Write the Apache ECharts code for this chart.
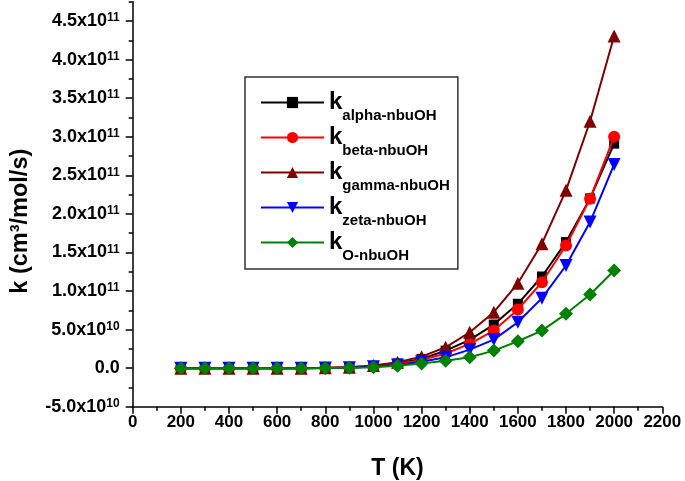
<!DOCTYPE html>
<html>
<head>
<meta charset="utf-8">
<script src="https://cdn.jsdelivr.net/npm/echarts@6/dist/echarts.min.js"></script>
<style>
html,body{margin:0;padding:0;background:#fff;}
#chart{width:685px;height:481px;}
</style>
</head>
<body>
<div id="chart"></div>
<script>
// Temperatures (K)
const temperatures = [200,300,400,500,600,700,800,900,1000,1100,1200,1300,1400,1500,1600,1700,1800,1900,2000];
// Rate constants in units of 1e11 cm^3/mol/s
const kAlpha = [0,0,0,0,0,0,0.003,0.010,0.028,0.060,0.120,0.227,0.366,0.565,0.834,1.188,1.634,2.200,2.910];
const kBeta  = [0,0,0,0,0,0,0.002,0.008,0.022,0.050,0.106,0.190,0.314,0.487,0.760,1.114,1.590,2.197,3.000];
const kGamma = [0,0,0,0,0,0,0.004,0.013,0.035,0.075,0.149,0.270,0.465,0.725,1.100,1.613,2.305,3.200,4.305];
const kZeta  = [0,0,0,0,0,0,0.002,0.006,0.018,0.040,0.084,0.140,0.240,0.370,0.595,0.907,1.330,1.894,2.640];
const kO     = [0,0,0,0,0,0,0.001,0.004,0.012,0.030,0.060,0.097,0.140,0.227,0.348,0.487,0.704,0.955,1.266];
const seriesNames = ['alpha-nbuOH','beta-nbuOH','gamma-nbuOH','zeta-nbuOH','O-nbuOH'];
const yMajorTicks = [-0.5,0,0.5,1,1.5,2,2.5,3,3.5,4,4.5];

const FONT = '"Liberation Sans", Arial, sans-serif';
const chart = echarts.init(document.getElementById('chart'));

function pairs(arr){ return arr.map((v,i)=>[temperatures[i], v]); }

function yLabel(v){
  const r = Math.round(v*100)/100;
  if (Math.abs(r) < 1e-9) return '{m|0.0}';
  if (Math.abs(r) < 1) return '{m|' + (r*10).toFixed(1) + 'x10}{e|10}';
  return '{m|' + r.toFixed(1) + 'x10}{e|11}';
}

const colors = ['#000000','#ff0000','#800000','#0000ff','#008000'];
const symbols = ['rect','circle','triangle','triangle','diamond'];
const symSizes = [10,12,13,13,14];
const rotations = [0,0,0,180,0];
const datas = [kAlpha,kBeta,kGamma,kZeta,kO];

const series = seriesNames.map((n,i)=>({
  name: n,
  type: 'line',
  data: pairs(datas[i]),
  symbol: symbols[i],
  symbolSize: symSizes[i],
  symbolRotate: rotations[i],
  showAllSymbol: true,
  lineStyle: {color: colors[i], width: 2},
  itemStyle: {color: colors[i]},
  emphasis: {disabled: true},
  animation: false,
  z: 2 + i
}));

chart.setOption({
  backgroundColor: '#ffffff',
  animation: false,
  grid: {left: 132.7, right: 22.7, top: 1.7, bottom: 74.3, containLabel: false, outerBoundsMode: 'none'},
  legend: {
    orient: 'vertical',
    left: 245, top: 77,
    padding: [5, 8, 6, 15],
    borderColor: '#333333',
    borderWidth: 1.5,
    itemWidth: 63,
    itemHeight: 14,
    itemGap: -6,
    selectedMode: false,
    data: seriesNames,
    formatter: function(name){ return '{k|k}{s|' + name + '}'; },
    textStyle: {
      fontFamily: FONT, fontWeight: 'bold', color: '#000',
      rich: {
        k: {fontFamily: FONT, fontWeight: 'bold', fontSize: 24, lineHeight: 24, color: '#000'},
        s: {fontFamily: FONT, fontWeight: 'bold', fontSize: 15, lineHeight: 15, color: '#000', padding: [26,0,0,0]}
      }
    }
  },
  xAxis: {
    type: 'value',
    min: 0, max: 2200, interval: 200,
    name: 'T (K)',
    nameLocation: 'middle',
    nameGap: 50,
    nameTextStyle: {fontFamily: FONT, fontWeight: 'bold', fontSize: 23, color: '#000'},
    axisLine: {show: true, onZero: false, lineStyle: {color: '#000', width: 1.5}},
    axisTick: {show: true, inside: false, length: 7, lineStyle: {color: '#000', width: 1.5}},
    minorTick: {show: true, splitNumber: 2, length: 4, lineStyle: {color: '#000', width: 1.5}},
    splitLine: {show: false},
    axisLabel: {fontFamily: FONT, fontWeight: 'bold', fontSize: 17, color: '#000', margin: 7,
      formatter: function(v){ return String(v); }}
  },
  yAxis: [{
    type: 'value',
    min: -0.5, max: 4.75, interval: 0.5,
    position: 'left',
    name: 'k (cm³/mol/s)',
    nameLocation: 'middle',
    nameGap: 100,
    nameTextStyle: {fontFamily: FONT, fontWeight: 'bold', fontSize: 23.5, color: '#000', padding: [0,34,0,0]},
    axisLine: {show: true, onZero: false, lineStyle: {color: '#000', width: 1.5}},
    axisTick: {show: true, inside: false, length: 7, customValues: yMajorTicks, lineStyle: {color: '#000', width: 1.5}},
    splitLine: {show: false},
    axisLabel: {
      customValues: yMajorTicks,
      margin: 13,
      formatter: yLabel,
      rich: {
        m: {fontFamily: FONT, fontWeight: 'bold', fontSize: 18, lineHeight: 18, color: '#000'},
        e: {fontFamily: FONT, fontWeight: 'bold', fontSize: 12, lineHeight: 12, color: '#000', verticalAlign: 'top', padding: [0,0,0,0]}
      }
    }
  },{
    type: 'value',
    min: -0.5, max: 4.75, interval: 0.25,
    position: 'left',
    axisLine: {show: false},
    axisTick: {show: true, inside: false, length: 4, lineStyle: {color: '#000', width: 1.5}},
    axisLabel: {show: false},
    splitLine: {show: false}
  }],
  series: series
});
</script>
</body>
</html>
